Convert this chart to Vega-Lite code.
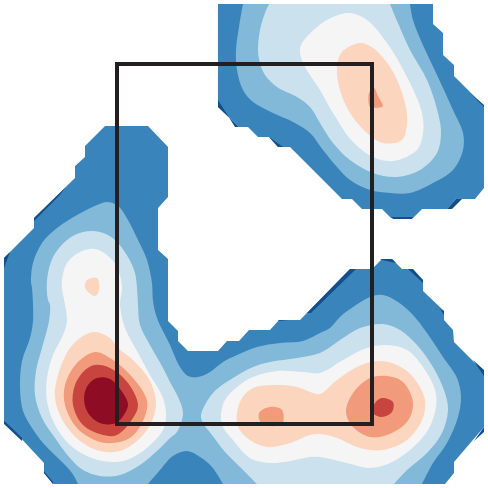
{"$schema":"https://vega.github.io/schema/vega-lite/v6.json","width":488,"height":488,"padding":0,"autosize":"none","background":"white","view":{"stroke":null},
"data":{"values":[
{"s":1,"l":1,"x":4,"y":258},{"s":1,"l":1,"x":34,"y":228},{"s":1,"l":1,"x":34,"y":218},{"s":1,"l":1,"x":75,"y":178},{"s":1,"l":1,"x":75,"y":166},{"s":1,"l":1,"x":85,"y":157},{"s":1,"l":1,"x":85,"y":146},{"s":1,"l":1,"x":105,"y":126},{"s":1,"l":1,"x":148,"y":126},{"s":1,"l":1,"x":168,"y":147},{"s":1,"l":1,"x":168,"y":197},{"s":1,"l":1,"x":158,"y":208},{"s":1,"l":1,"x":158,"y":250},{"s":1,"l":1,"x":168,"y":259},{"s":1,"l":1,"x":168,"y":321},{"s":1,"l":1,"x":178,"y":331},{"s":1,"l":1,"x":178,"y":341},{"s":1,"l":1,"x":188,"y":351},{"s":1,"l":1,"x":218,"y":351},{"s":1,"l":1,"x":227,"y":341},{"s":1,"l":1,"x":239,"y":341},{"s":1,"l":1,"x":249,"y":330},{"s":1,"l":1,"x":270,"y":330},{"s":1,"l":1,"x":279,"y":320},{"s":1,"l":1,"x":300,"y":320},{"s":1,"l":1,"x":350,"y":269},{"s":1,"l":1,"x":372,"y":269},{"s":1,"l":1,"x":382,"y":259},{"s":1,"l":1,"x":392,"y":259},{"s":1,"l":1,"x":402,"y":269},{"s":1,"l":1,"x":410,"y":269},{"s":1,"l":1,"x":423,"y":280},{"s":1,"l":1,"x":423,"y":291},{"s":1,"l":1,"x":444,"y":311},{"s":1,"l":1,"x":444,"y":320},{"s":1,"l":1,"x":453,"y":330},{"s":1,"l":1,"x":454,"y":342},{"s":1,"l":1,"x":484,"y":372},{"s":1,"l":1,"x":484,"y":427},{"s":1,"l":1,"x":454,"y":462},{"s":1,"l":1,"x":454,"y":473},{"s":1,"l":1,"x":445,"y":484},{"s":1,"l":1,"x":53,"y":484},{"s":1,"l":1,"x":44,"y":473},{"s":1,"l":1,"x":44,"y":463},{"s":1,"l":1,"x":4,"y":420},
{"s":2,"l":1,"x":218,"y":4},{"s":2,"l":1,"x":218,"y":107},{"s":2,"l":1,"x":239,"y":127},{"s":2,"l":1,"x":248,"y":127},{"s":2,"l":1,"x":258,"y":137},{"s":2,"l":1,"x":269,"y":137},{"s":2,"l":1,"x":278,"y":147},{"s":2,"l":1,"x":290,"y":147},{"s":2,"l":1,"x":342,"y":199},{"s":2,"l":1,"x":352,"y":199},{"s":2,"l":1,"x":362,"y":209},{"s":2,"l":1,"x":382,"y":209},{"s":2,"l":1,"x":391,"y":218},{"s":2,"l":1,"x":413,"y":218},{"s":2,"l":1,"x":422,"y":209},{"s":2,"l":1,"x":447,"y":209},{"s":2,"l":1,"x":456,"y":199},{"s":2,"l":1,"x":475,"y":199},{"s":2,"l":1,"x":484,"y":188},{"s":2,"l":1,"x":484,"y":106},{"s":2,"l":1,"x":454,"y":76},{"s":2,"l":1,"x":454,"y":65},{"s":2,"l":1,"x":443,"y":55},{"s":2,"l":1,"x":443,"y":33},{"s":2,"l":1,"x":433,"y":24},{"s":2,"l":1,"x":433,"y":4},
{"s":3,"l":0,"x":4,"y":258},{"s":3,"l":0,"x":10,"y":252},{"s":3,"l":0,"x":4,"y":268},
{"s":4,"l":0,"x":34,"y":218},{"s":4,"l":0,"x":66,"y":187},{"s":4,"l":0,"x":58,"y":197},{"s":4,"l":0,"x":34,"y":221},
{"s":5,"l":0,"x":4,"y":420},{"s":5,"l":0,"x":22,"y":438},{"s":5,"l":0,"x":22,"y":441},{"s":5,"l":0,"x":4,"y":424},
{"s":6,"l":0,"x":44,"y":471},{"s":6,"l":0,"x":53,"y":482},{"s":6,"l":0,"x":53,"y":484},{"s":6,"l":0,"x":44,"y":473},
{"s":7,"l":0,"x":307,"y":313},{"s":7,"l":0,"x":350,"y":269},{"s":7,"l":0,"x":356,"y":269},{"s":7,"l":0,"x":311,"y":313},
{"s":8,"l":0,"x":279,"y":320},{"s":8,"l":0,"x":289,"y":320},{"s":8,"l":0,"x":278,"y":321},
{"s":9,"l":0,"x":380,"y":259},{"s":9,"l":0,"x":392,"y":259},{"s":9,"l":0,"x":396,"y":263},{"s":9,"l":0,"x":382,"y":260},
{"s":10,"l":0,"x":408,"y":269},{"s":10,"l":0,"x":413,"y":269},{"s":10,"l":0,"x":423,"y":280},{"s":10,"l":0,"x":423,"y":283},
{"s":11,"l":0,"x":440,"y":309},{"s":11,"l":0,"x":444,"y":311},{"s":11,"l":0,"x":444,"y":315},
{"s":12,"l":0,"x":473,"y":360},{"s":12,"l":0,"x":484,"y":370},{"s":12,"l":0,"x":484,"y":376},
{"s":13,"l":0,"x":484,"y":427},{"s":13,"l":0,"x":484,"y":432},{"s":13,"l":0,"x":474,"y":441},
{"s":14,"l":0,"x":218,"y":100},{"s":14,"l":0,"x":218,"y":107},{"s":14,"l":0,"x":239,"y":127},{"s":14,"l":0,"x":235,"y":127},
{"s":15,"l":0,"x":269,"y":137},{"s":15,"l":0,"x":278,"y":147},{"s":15,"l":0,"x":283,"y":147},
{"s":16,"l":0,"x":462,"y":199},{"s":16,"l":0,"x":456,"y":199},{"s":16,"l":0,"x":447,"y":209},{"s":16,"l":0,"x":452,"y":209},
{"s":17,"l":0,"x":391,"y":217},{"s":17,"l":0,"x":413,"y":217},{"s":17,"l":0,"x":412,"y":219},{"s":17,"l":0,"x":393,"y":219},
{"s":18,"l":0,"x":470,"y":93},{"s":18,"l":0,"x":484,"y":105},{"s":18,"l":0,"x":484,"y":107},
{"s":19,"l":2,"x":78,"y":484},{"s":19,"l":2,"x":72,"y":473},{"s":19,"l":2,"x":60,"y":460},{"s":19,"l":2,"x":43,"y":443},{"s":19,"l":2,"x":32,"y":428},{"s":19,"l":2,"x":23,"y":411},{"s":19,"l":2,"x":20,"y":388},{"s":19,"l":2,"x":22,"y":361},{"s":19,"l":2,"x":30,"y":338},{"s":19,"l":2,"x":33,"y":321},{"s":19,"l":2,"x":32,"y":288},{"s":19,"l":2,"x":31,"y":282},{"s":19,"l":2,"x":33,"y":263},{"s":19,"l":2,"x":42,"y":243},{"s":19,"l":2,"x":57,"y":228},{"s":19,"l":2,"x":77,"y":215},{"s":19,"l":2,"x":97,"y":205},{"s":19,"l":2,"x":107,"y":202},{"s":19,"l":2,"x":118,"y":206},{"s":19,"l":2,"x":128,"y":220},{"s":19,"l":2,"x":138,"y":240},{"s":19,"l":2,"x":147,"y":260},{"s":19,"l":2,"x":152,"y":283},{"s":19,"l":2,"x":153,"y":301},{"s":19,"l":2,"x":157,"y":318},{"s":19,"l":2,"x":170,"y":345},{"s":19,"l":2,"x":180,"y":367},{"s":19,"l":2,"x":188,"y":376},{"s":19,"l":2,"x":198,"y":377},{"s":19,"l":2,"x":210,"y":372},{"s":19,"l":2,"x":223,"y":362},{"s":19,"l":2,"x":237,"y":355},{"s":19,"l":2,"x":257,"y":347},{"s":19,"l":2,"x":280,"y":343},{"s":19,"l":2,"x":303,"y":341},{"s":19,"l":2,"x":320,"y":333},{"s":19,"l":2,"x":330,"y":328},{"s":19,"l":2,"x":340,"y":317},{"s":19,"l":2,"x":353,"y":307},{"s":19,"l":2,"x":370,"y":297},{"s":19,"l":2,"x":383,"y":295},{"s":19,"l":2,"x":398,"y":302},{"s":19,"l":2,"x":413,"y":315},{"s":19,"l":2,"x":427,"y":333},{"s":19,"l":2,"x":443,"y":357},{"s":19,"l":2,"x":457,"y":378},{"s":19,"l":2,"x":461,"y":397},{"s":19,"l":2,"x":458,"y":417},{"s":19,"l":2,"x":447,"y":443},{"s":19,"l":2,"x":433,"y":463},{"s":19,"l":2,"x":422,"y":484},
{"s":20,"l":1,"x":148,"y":484},{"s":20,"l":1,"x":160,"y":470},{"s":20,"l":1,"x":173,"y":456},{"s":20,"l":1,"x":187,"y":451},{"s":20,"l":1,"x":200,"y":457},{"s":20,"l":1,"x":212,"y":467},{"s":20,"l":1,"x":223,"y":484},
{"s":21,"l":2,"x":243,"y":4},{"s":21,"l":2,"x":239,"y":27},{"s":21,"l":2,"x":236,"y":50},{"s":21,"l":2,"x":237,"y":70},{"s":21,"l":2,"x":243,"y":90},{"s":21,"l":2,"x":253,"y":102},{"s":21,"l":2,"x":273,"y":113},{"s":21,"l":2,"x":293,"y":122},{"s":21,"l":2,"x":310,"y":133},{"s":21,"l":2,"x":323,"y":150},{"s":21,"l":2,"x":337,"y":167},{"s":21,"l":2,"x":350,"y":180},{"s":21,"l":2,"x":370,"y":190},{"s":21,"l":2,"x":390,"y":193},{"s":21,"l":2,"x":410,"y":193},{"s":21,"l":2,"x":433,"y":183},{"s":21,"l":2,"x":453,"y":170},{"s":21,"l":2,"x":463,"y":150},{"s":21,"l":2,"x":463,"y":133},{"s":21,"l":2,"x":453,"y":110},{"s":21,"l":2,"x":437,"y":75},{"s":21,"l":2,"x":422,"y":43},{"s":21,"l":2,"x":413,"y":20},{"s":21,"l":2,"x":410,"y":4},
{"s":23,"l":3,"x":257,"y":484},{"s":23,"l":3,"x":240,"y":467},{"s":23,"l":3,"x":225,"y":452},{"s":23,"l":3,"x":212,"y":435},{"s":23,"l":3,"x":203,"y":423},{"s":23,"l":3,"x":201,"y":415},{"s":23,"l":3,"x":213,"y":393},{"s":23,"l":3,"x":233,"y":378},{"s":23,"l":3,"x":253,"y":367},{"s":23,"l":3,"x":270,"y":362},{"s":23,"l":3,"x":297,"y":358},{"s":23,"l":3,"x":320,"y":353},{"s":23,"l":3,"x":340,"y":340},{"s":23,"l":3,"x":360,"y":328},{"s":23,"l":3,"x":383,"y":324},{"s":23,"l":3,"x":400,"y":330},{"s":23,"l":3,"x":417,"y":345},{"s":23,"l":3,"x":433,"y":367},{"s":23,"l":3,"x":445,"y":393},{"s":23,"l":3,"x":448,"y":410},{"s":23,"l":3,"x":442,"y":433},{"s":23,"l":3,"x":427,"y":453},{"s":23,"l":3,"x":407,"y":470},{"s":23,"l":3,"x":394,"y":484},
{"s":24,"l":3,"x":269,"y":4},{"s":24,"l":3,"x":265,"y":13},{"s":24,"l":3,"x":260,"y":30},{"s":24,"l":3,"x":258,"y":50},{"s":24,"l":3,"x":260,"y":63},{"s":24,"l":3,"x":265,"y":75},{"s":24,"l":3,"x":277,"y":87},{"s":24,"l":3,"x":297,"y":97},{"s":24,"l":3,"x":310,"y":107},{"s":24,"l":3,"x":320,"y":123},{"s":24,"l":3,"x":333,"y":143},{"s":24,"l":3,"x":350,"y":160},{"s":24,"l":3,"x":373,"y":173},{"s":24,"l":3,"x":397,"y":177},{"s":24,"l":3,"x":420,"y":170},{"s":24,"l":3,"x":437,"y":153},{"s":24,"l":3,"x":441,"y":133},{"s":24,"l":3,"x":438,"y":113},{"s":24,"l":3,"x":427,"y":80},{"s":24,"l":3,"x":410,"y":50},{"s":24,"l":3,"x":398,"y":23},{"s":24,"l":3,"x":390,"y":4},
{"s":22,"l":3,"x":48,"y":300},{"s":22,"l":3,"x":47,"y":280},{"s":22,"l":3,"x":53,"y":257},{"s":22,"l":3,"x":67,"y":240},{"s":22,"l":3,"x":83,"y":232},{"s":22,"l":3,"x":100,"y":232},{"s":22,"l":3,"x":115,"y":240},{"s":22,"l":3,"x":128,"y":257},{"s":22,"l":3,"x":135,"y":273},{"s":22,"l":3,"x":137,"y":288},{"s":22,"l":3,"x":138,"y":305},{"s":22,"l":3,"x":140,"y":325},{"s":22,"l":3,"x":150,"y":345},{"s":22,"l":3,"x":163,"y":368},{"s":22,"l":3,"x":170,"y":382},{"s":22,"l":3,"x":178,"y":397},{"s":22,"l":3,"x":183,"y":413},{"s":22,"l":3,"x":177,"y":432},{"s":22,"l":3,"x":170,"y":438},{"s":22,"l":3,"x":157,"y":451},{"s":22,"l":3,"x":140,"y":465},{"s":22,"l":3,"x":120,"y":475},{"s":22,"l":3,"x":100,"y":476},{"s":22,"l":3,"x":83,"y":470},{"s":22,"l":3,"x":70,"y":458},{"s":22,"l":3,"x":55,"y":438},{"s":22,"l":3,"x":42,"y":418},{"s":22,"l":3,"x":35,"y":395},{"s":22,"l":3,"x":36,"y":371},{"s":22,"l":3,"x":42,"y":348},{"s":22,"l":3,"x":49,"y":321},{"s":22,"l":3,"x":50,"y":305},
{"s":25,"l":4,"x":62,"y":288},{"s":25,"l":4,"x":62,"y":280},{"s":25,"l":4,"x":67,"y":263},{"s":25,"l":4,"x":80,"y":252},{"s":25,"l":4,"x":95,"y":249},{"s":25,"l":4,"x":107,"y":255},{"s":25,"l":4,"x":117,"y":267},{"s":25,"l":4,"x":122,"y":287},{"s":25,"l":4,"x":120,"y":305},{"s":25,"l":4,"x":125,"y":328},{"s":25,"l":4,"x":137,"y":351},{"s":25,"l":4,"x":150,"y":375},{"s":25,"l":4,"x":163,"y":398},{"s":25,"l":4,"x":166,"y":415},{"s":25,"l":4,"x":163,"y":430},{"s":25,"l":4,"x":143,"y":451},{"s":25,"l":4,"x":123,"y":461},{"s":25,"l":4,"x":103,"y":461},{"s":25,"l":4,"x":87,"y":456},{"s":25,"l":4,"x":70,"y":445},{"s":25,"l":4,"x":55,"y":425},{"s":25,"l":4,"x":47,"y":401},{"s":25,"l":4,"x":47,"y":378},{"s":25,"l":4,"x":53,"y":355},{"s":25,"l":4,"x":63,"y":335},{"s":25,"l":4,"x":67,"y":321},
{"s":26,"l":4,"x":221,"y":415},{"s":26,"l":4,"x":225,"y":400},{"s":26,"l":4,"x":237,"y":387},{"s":26,"l":4,"x":253,"y":377},{"s":26,"l":4,"x":277,"y":371},{"s":26,"l":4,"x":303,"y":372},{"s":26,"l":4,"x":320,"y":373},{"s":26,"l":4,"x":343,"y":360},{"s":26,"l":4,"x":367,"y":348},{"s":26,"l":4,"x":387,"y":345},{"s":26,"l":4,"x":407,"y":350},{"s":26,"l":4,"x":423,"y":367},{"s":26,"l":4,"x":435,"y":390},{"s":26,"l":4,"x":436,"y":407},{"s":26,"l":4,"x":428,"y":430},{"s":26,"l":4,"x":410,"y":450},{"s":26,"l":4,"x":390,"y":463},{"s":26,"l":4,"x":370,"y":468},{"s":26,"l":4,"x":347,"y":463},{"s":26,"l":4,"x":320,"y":457},{"s":26,"l":4,"x":310,"y":457},{"s":26,"l":4,"x":290,"y":461},{"s":26,"l":4,"x":270,"y":463},{"s":26,"l":4,"x":250,"y":458},{"s":26,"l":4,"x":233,"y":440},{"s":26,"l":4,"x":223,"y":427},
{"s":27,"l":4,"x":350,"y":13},{"s":27,"l":4,"x":367,"y":20},{"s":27,"l":4,"x":387,"y":43},{"s":27,"l":4,"x":407,"y":77},{"s":27,"l":4,"x":422,"y":113},{"s":27,"l":4,"x":423,"y":133},{"s":27,"l":4,"x":417,"y":150},{"s":27,"l":4,"x":393,"y":161},{"s":27,"l":4,"x":373,"y":157},{"s":27,"l":4,"x":353,"y":142},{"s":27,"l":4,"x":333,"y":113},{"s":27,"l":4,"x":320,"y":90},{"s":27,"l":4,"x":303,"y":63},{"s":27,"l":4,"x":300,"y":50},{"s":27,"l":4,"x":302,"y":43},{"s":27,"l":4,"x":317,"y":27},{"s":27,"l":4,"x":333,"y":17},
{"s":28,"l":5,"x":87,"y":280},{"s":28,"l":5,"x":97,"y":278},{"s":28,"l":5,"x":99,"y":290},{"s":28,"l":5,"x":95,"y":296},{"s":28,"l":5,"x":85,"y":288},
{"s":29,"l":5,"x":95,"y":332},{"s":29,"l":5,"x":110,"y":338},{"s":29,"l":5,"x":118,"y":348},{"s":29,"l":5,"x":133,"y":360},{"s":29,"l":5,"x":150,"y":381},{"s":29,"l":5,"x":156,"y":405},{"s":29,"l":5,"x":150,"y":425},{"s":29,"l":5,"x":137,"y":441},{"s":29,"l":5,"x":120,"y":451},{"s":29,"l":5,"x":100,"y":451},{"s":29,"l":5,"x":80,"y":441},{"s":29,"l":5,"x":63,"y":421},{"s":29,"l":5,"x":55,"y":398},{"s":29,"l":5,"x":58,"y":375},{"s":29,"l":5,"x":70,"y":348},{"s":29,"l":5,"x":83,"y":336},
{"s":30,"l":5,"x":237,"y":413},{"s":30,"l":5,"x":242,"y":398},{"s":30,"l":5,"x":253,"y":388},{"s":30,"l":5,"x":277,"y":385},{"s":30,"l":5,"x":297,"y":387},{"s":30,"l":5,"x":313,"y":393},{"s":30,"l":5,"x":320,"y":394},{"s":30,"l":5,"x":337,"y":380},{"s":30,"l":5,"x":357,"y":367},{"s":30,"l":5,"x":377,"y":361},{"s":30,"l":5,"x":397,"y":365},{"s":30,"l":5,"x":413,"y":377},{"s":30,"l":5,"x":425,"y":400},{"s":30,"l":5,"x":422,"y":420},{"s":30,"l":5,"x":407,"y":440},{"s":30,"l":5,"x":383,"y":450},{"s":30,"l":5,"x":360,"y":448},{"s":30,"l":5,"x":337,"y":438},{"s":30,"l":5,"x":320,"y":434},{"s":30,"l":5,"x":310,"y":435},{"s":30,"l":5,"x":290,"y":443},{"s":30,"l":5,"x":267,"y":447},{"s":30,"l":5,"x":250,"y":440},{"s":30,"l":5,"x":238,"y":427},
{"s":31,"l":5,"x":360,"y":43},{"s":31,"l":5,"x":373,"y":48},{"s":31,"l":5,"x":392,"y":70},{"s":31,"l":5,"x":405,"y":103},{"s":31,"l":5,"x":407,"y":123},{"s":31,"l":5,"x":402,"y":140},{"s":31,"l":5,"x":383,"y":143},{"s":31,"l":5,"x":367,"y":133},{"s":31,"l":5,"x":350,"y":113},{"s":31,"l":5,"x":340,"y":90},{"s":31,"l":5,"x":337,"y":67},{"s":31,"l":5,"x":342,"y":52},
{"s":32,"l":6,"x":95,"y":352},{"s":32,"l":6,"x":110,"y":358},{"s":32,"l":6,"x":133,"y":378},{"s":32,"l":6,"x":147,"y":401},{"s":32,"l":6,"x":143,"y":421},{"s":32,"l":6,"x":130,"y":438},{"s":32,"l":6,"x":113,"y":443},{"s":32,"l":6,"x":97,"y":441},{"s":32,"l":6,"x":77,"y":428},{"s":32,"l":6,"x":65,"y":405},{"s":32,"l":6,"x":65,"y":385},{"s":32,"l":6,"x":77,"y":363},
{"s":33,"l":6,"x":370,"y":378},{"s":33,"l":6,"x":387,"y":376},{"s":33,"l":6,"x":403,"y":382},{"s":33,"l":6,"x":413,"y":403},{"s":33,"l":6,"x":407,"y":422},{"s":33,"l":6,"x":387,"y":435},{"s":33,"l":6,"x":370,"y":437},{"s":33,"l":6,"x":353,"y":427},{"s":33,"l":6,"x":346,"y":412},{"s":33,"l":6,"x":353,"y":393},
{"s":34,"l":6,"x":270,"y":407},{"s":34,"l":6,"x":282,"y":410},{"s":34,"l":6,"x":282,"y":424},{"s":34,"l":6,"x":262,"y":424},{"s":34,"l":6,"x":259,"y":413},
{"s":35,"l":6,"x":374,"y":88},{"s":35,"l":6,"x":378,"y":96},{"s":35,"l":6,"x":383,"y":106},{"s":35,"l":6,"x":382,"y":107},{"s":35,"l":6,"x":370,"y":107},{"s":35,"l":6,"x":369,"y":105},{"s":35,"l":6,"x":369,"y":93},
{"s":36,"l":7,"x":95,"y":365},{"s":36,"l":7,"x":110,"y":368},{"s":36,"l":7,"x":128,"y":383},{"s":36,"l":7,"x":138,"y":405},{"s":36,"l":7,"x":133,"y":418},{"s":36,"l":7,"x":117,"y":435},{"s":36,"l":7,"x":103,"y":435},{"s":36,"l":7,"x":83,"y":425},{"s":36,"l":7,"x":73,"y":405},{"s":36,"l":7,"x":75,"y":385},{"s":36,"l":7,"x":85,"y":370},
{"s":37,"l":7,"x":382,"y":398},{"s":37,"l":7,"x":393,"y":402},{"s":37,"l":7,"x":392,"y":412},{"s":37,"l":7,"x":382,"y":417},{"s":37,"l":7,"x":373,"y":413},{"s":37,"l":7,"x":375,"y":403},
{"s":38,"l":8,"x":97,"y":378},{"s":38,"l":8,"x":110,"y":379},{"s":38,"l":8,"x":123,"y":393},{"s":38,"l":8,"x":128,"y":405},{"s":38,"l":8,"x":120,"y":420},{"s":38,"l":8,"x":113,"y":424},{"s":38,"l":8,"x":100,"y":423},{"s":38,"l":8,"x":88,"y":413},{"s":38,"l":8,"x":84,"y":398},{"s":38,"l":8,"x":88,"y":385}
]},
"encoding":{
"x":{"field":"x","type":"quantitative","scale":{"domain":[0,488],"nice":false,"zero":false},"axis":null},
"y":{"field":"y","type":"quantitative","scale":{"domain":[488,0],"nice":false,"zero":false},"axis":null},
"detail":{"field":"s"},
"fill":{"field":"l","type":"ordinal","legend":null,"scale":{"domain":[0,1,2,3,4,5,6,7,8],"range":["#124e8a","#3a84bc","#82b8d8","#cbe2ee","#f5f5f5","#fcd5bf","#f19b7c","#c8453f","#8e0d25"]}}
},
"layer":[
{"transform":[{"filter":"datum.s<=18"}],"mark":{"type":"line","order":false,"strokeWidth":0,"interpolate":"linear"}},
{"transform":[{"filter":"datum.s==19||datum.s==20||datum.s==21||datum.s==23||datum.s==24"}],"mark":{"type":"line","order":false,"strokeWidth":0,"interpolate":"catmull-rom"}},
{"transform":[{"filter":"datum.s==22||datum.s>=25"}],"mark":{"type":"line","order":false,"strokeWidth":0,"interpolate":"catmull-rom-closed"}},
{"data":{"values":[{"x0":117,"x1":372,"y0":64,"y1":424}]},
"mark":{"type":"rect","fillOpacity":0,"stroke":"#231f20","strokeWidth":4},
"encoding":{
"x":{"field":"x0","type":"quantitative","scale":{"domain":[0,488],"nice":false,"zero":false},"axis":null},
"x2":{"field":"x1"},
"y":{"field":"y0","type":"quantitative","scale":{"domain":[488,0],"nice":false,"zero":false},"axis":null},
"y2":{"field":"y1"},
"detail":{"value":null},
"fill":{"value":null}
}}
]}
